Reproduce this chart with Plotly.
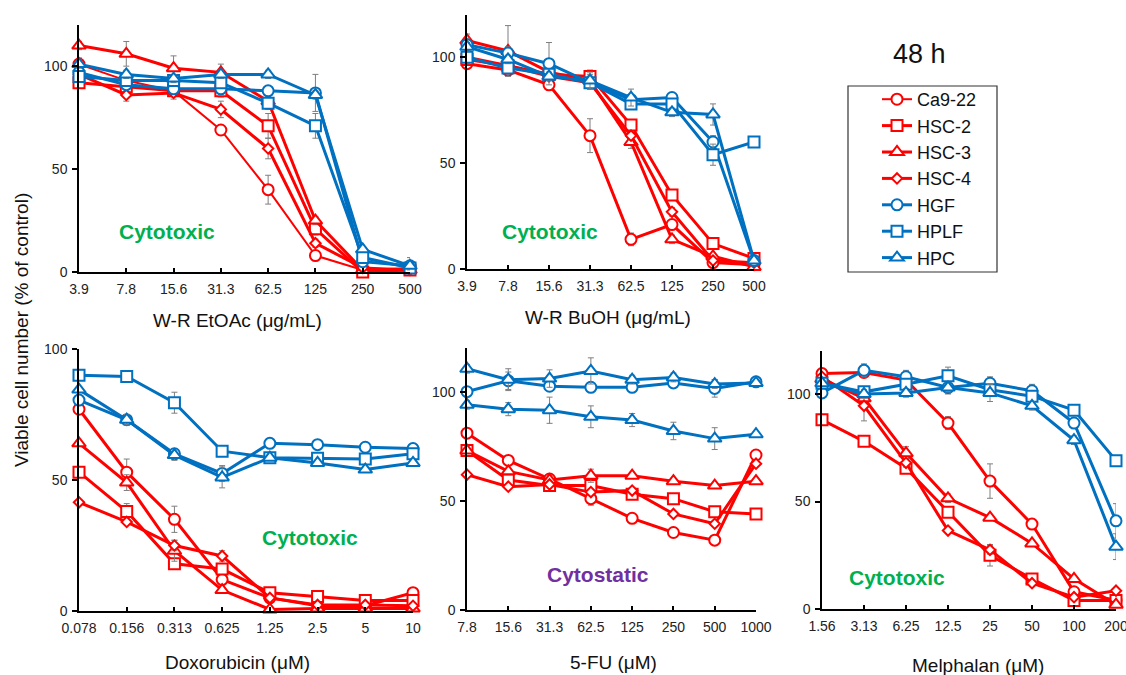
import plotly.graph_objects as go

W, H = 1126, 675
RED = "#FF0000"
BLUE = "#0070C0"
GREEN = "#00B050"
PURPLE = "#7030A0"
FONT = "Liberation Sans, Arial, sans-serif"

cell_lines = ["Ca9-22", "HSC-2", "HSC-3", "HSC-4", "HGF", "HPLF", "HPC"]
line_colors = [RED, RED, RED, RED, BLUE, BLUE, BLUE]
symbols = ["circle", "square", "triangle-up", "diamond", "circle", "square", "triangle-up"]

# ---------------- W-R EtOAc (ug/mL) ----------------
etoac_doses = ["3.9", "7.8", "15.6", "31.3", "62.5", "125", "250", "500"]
etoac_ca922 = [101, 93, 88, 69, 40, 8, 1, 2]
etoac_hsc2 = [92, 90, 88, 88, 71, 21, 0, 1]
etoac_hsc3 = [110, 106, 99, 97, 83, 25, 1, 1]
etoac_hsc4 = [96, 86, 87, 79, 60, 14, 2, 1]
etoac_hgf = [97, 91, 89, 89, 88, 87, 5, 3]
etoac_hplf = [95, 93, 93, 92, 82, 71, 7, 2]
etoac_hpc = [101, 96, 94, 96, 96, 86, 11, 3]
etoac_ca922_err = [3, 2, 2, 2, 7, 2, 1, 1]
etoac_hsc2_err = [2, 2, 2, 3, 6, 3, 1, 1]
etoac_hsc3_err = [2, 6, 6, 4, 4, 2, 1, 1]
etoac_hsc4_err = [2, 3, 3, 4, 5, 2, 1, 1]
etoac_hgf_err = [2, 2, 2, 2, 2, 9, 1, 4]
etoac_hplf_err = [2, 2, 2, 2, 2, 6, 1, 1]
etoac_hpc_err = [2, 2, 2, 2, 2, 2, 1, 2]

# ---------------- W-R BuOH (ug/mL) ----------------
buoh_doses = ["3.9", "7.8", "15.6", "31.3", "62.5", "125", "250", "500"]
buoh_ca922 = [97, 94, 87, 63, 14, 21, 3, 2]
buoh_hsc2 = [99, 96, 92, 91, 68, 35, 12, 5]
buoh_hsc3 = [108, 103, 93, 89, 60, 14, 6, 1]
buoh_hsc4 = [100, 96, 91, 88, 63, 27, 4, 3]
buoh_hgf = [106, 102, 97, 88, 80, 81, 60, 4]
buoh_hplf = [100, 95, 92, 88, 78, 78, 54, 60]
buoh_hpc = [105, 99, 91, 89, 81, 74, 73, 4]
buoh_ca922_err = [2, 2, 2, 8, 3, 2, 1, 1]
buoh_hsc2_err = [2, 2, 2, 3, 2, 2, 1, 1]
buoh_hsc3_err = [3, 12, 3, 3, 3, 2, 1, 1]
buoh_hsc4_err = [2, 2, 2, 3, 2, 2, 1, 1]
buoh_hgf_err = [3, 3, 10, 3, 2, 2, 3, 1]
buoh_hplf_err = [3, 2, 2, 3, 2, 2, 5, 1]
buoh_hpc_err = [2, 2, 2, 4, 4, 2, 5, 1]

# ---------------- Doxorubicin (uM) ----------------
dox_doses = ["0.078", "0.156", "0.313", "0.625", "1.25", "2.5", "5", "10"]
dox_ca922 = [77, 53, 35, 12, 5, 2, 2, 7]
dox_hsc2 = [53, 38, 18, 16, 7, 5.5, 4, 4]
dox_hsc3 = [64, 49, 23, 8, 0.6, 1, 1, 1]
dox_hsc4 = [41.5, 34, 25, 21, 5, 2.3, 2.3, 2]
dox_hgf = [80.5, 73, 60, 52.5, 64, 63.5, 62.5, 62]
dox_hplf = [90, 89.5, 79.5, 61, 58.5, 58.3, 58, 60]
dox_hpc = [84.5, 73, 59.5, 51, 58.5, 56.5, 54, 56.5]
dox_ca922_err = [1, 5, 5, 2, 1, 1, 1, 1]
dox_hsc2_err = [1, 3, 2, 2, 1, 1, 1, 1]
dox_hsc3_err = [1, 3, 4, 1, 1, 1, 1, 1]
dox_hsc4_err = [1, 1, 2, 2, 1, 1, 1, 1]
dox_hgf_err = [1, 2, 2, 3, 1, 1, 1, 1]
dox_hplf_err = [1, 2, 4, 2, 1, 1, 1, 1]
dox_hpc_err = [1, 2, 2, 4, 1, 1, 1, 1]

# ---------------- 5-FU (uM) ----------------
fu_doses = ["7.8", "15.6", "31.3", "62.5", "125", "250", "500", "1000"]
fu_ca922 = [81, 68.5, 60, 51, 42, 35.5, 32, 71]
fu_hsc2 = [73, 59.5, 57, 57, 53, 51, 45, 44]
fu_hsc3 = [73, 63.5, 59.5, 61.5, 61.5, 59, 57, 59]
fu_hsc4 = [62, 56.5, 57.5, 54, 54.7, 44, 39.5, 67]
fu_hgf = [100, 105, 102.5, 102, 102, 104, 101.5, 104.5]
fu_hplf = [94, 92, 91.5, 88.5, 87, 82, 78.5, 80.5]
fu_hpc = [110.5, 105.5, 106, 109.5, 105.5, 106.5, 103.5, 104]
fu_ca922_err = [1, 1, 2, 3, 1, 1, 1, 1]
fu_hsc2_err = [1, 1, 1, 2, 1, 1, 1, 1]
fu_hsc3_err = [1, 1, 2, 3, 1, 1, 1, 1]
fu_hsc4_err = [1, 1, 1, 1, 1, 1, 1, 1]
fu_hgf_err = [2, 4, 2, 2, 2, 2, 4, 1]
fu_hplf_err = [2, 3, 6, 5, 3, 4, 5, 1]
fu_hpc_err = [2, 5, 4, 6, 2, 2, 2, 1]

# ---------------- Melphalan (uM) ----------------
mel_doses = ["1.56", "3.13", "6.25", "12.5", "25", "50", "100", "200"]
mel_ca922 = [109.5, 110, 106.5, 86.5, 59.5, 39.5, 8, 4]
mel_hsc2 = [88, 78, 65.5, 45, 25, 14, 4, 4]
mel_hsc3 = [107, 98, 72.5, 51.5, 42.5, 30.5, 14, 2]
mel_hsc4 = [108, 94.5, 68, 36.5, 27.5, 12, 5.5, 8.5]
mel_hgf = [100.5, 111, 108, 103, 105, 101.5, 86.5, 41]
mel_hplf = [105, 101, 104.5, 108.5, 102, 99, 92.5, 69]
mel_hpc = [105, 100, 100.5, 103, 100.5, 94.5, 78.5, 29]
mel_ca922_err = [1, 2, 2, 3, 8, 1, 1, 1]
mel_hsc2_err = [1, 1, 1, 2, 5, 1, 1, 1]
mel_hsc3_err = [1, 2, 3, 2, 1, 1, 1, 1]
mel_hsc4_err = [1, 7, 2, 1, 2, 1, 1, 1]
mel_hgf_err = [1, 3, 3, 3, 3, 3, 2, 8]
mel_hplf_err = [1, 2, 2, 4, 2, 2, 1, 1]
mel_hpc_err = [1, 2, 2, 2, 4, 2, 2, 6]

panels = [
    dict(doses=etoac_doses,
         vals=[etoac_ca922, etoac_hsc2, etoac_hsc3, etoac_hsc4, etoac_hgf, etoac_hplf, etoac_hpc],
         errs=[etoac_ca922_err, etoac_hsc2_err, etoac_hsc3_err, etoac_hsc4_err, etoac_hgf_err, etoac_hplf_err, etoac_hpc_err],
         ax="", xpx=(79, 410), ypx=(272, 25), yr=120, thin_first=True, sym_override={}),
    dict(doses=buoh_doses,
         vals=[buoh_ca922, buoh_hsc2, buoh_hsc3, buoh_hsc4, buoh_hgf, buoh_hplf, buoh_hpc],
         errs=[buoh_ca922_err, buoh_hsc2_err, buoh_hsc3_err, buoh_hsc4_err, buoh_hgf_err, buoh_hplf_err, buoh_hpc_err],
         ax="2", xpx=(467, 754), ypx=(269, 15), yr=120, thin_first=False, sym_override={}),
    dict(doses=dox_doses,
         vals=[dox_ca922, dox_hsc2, dox_hsc3, dox_hsc4, dox_hgf, dox_hplf, dox_hpc],
         errs=[dox_ca922_err, dox_hsc2_err, dox_hsc3_err, dox_hsc4_err, dox_hgf_err, dox_hplf_err, dox_hpc_err],
         ax="3", xpx=(79, 413), ypx=(611, 349), yr=100, thin_first=False, sym_override={}),
    dict(doses=fu_doses,
         vals=[fu_ca922, fu_hsc2, fu_hsc3, fu_hsc4, fu_hgf, fu_hplf, fu_hpc],
         errs=[fu_ca922_err, fu_hsc2_err, fu_hsc3_err, fu_hsc4_err, fu_hgf_err, fu_hplf_err, fu_hpc_err],
         ax="4", xpx=(467, 756), ypx=(610, 348), yr=120, thin_first=False, sym_override={5: "triangle-up"}),
    dict(doses=mel_doses,
         vals=[mel_ca922, mel_hsc2, mel_hsc3, mel_hsc4, mel_hgf, mel_hplf, mel_hpc],
         errs=[mel_ca922_err, mel_hsc2_err, mel_hsc3_err, mel_hsc4_err, mel_hgf_err, mel_hplf_err, mel_hpc_err],
         ax="5", xpx=(822, 1116), ypx=(609, 351), yr=120, thin_first=False, sym_override={}),
]

fig = go.Figure()
layout = {}

for pi, p in enumerate(panels):
    for si, name in enumerate(cell_lines):
        sym = p["sym_override"].get(si, symbols[si])
        size = 8 if sym == "diamond" else (12 if sym.startswith("triangle") else 11)
        lw = 2 if (p["thin_first"] and si == 0) else 3
        fig.add_trace(go.Scatter(
            x=p["doses"], y=p["vals"][si],
            mode="lines+markers",
            name=name,
            legendgroup=name,
            showlegend=(pi == 0),
            line=dict(color=line_colors[si], width=lw),
            marker=dict(symbol=sym, size=size, color="white",
                        line=dict(color=line_colors[si], width=2)),
            error_y=dict(type="data", array=p["errs"][si], visible=True,
                         color="#7F7F7F", thickness=1, width=3),
            cliponaxis=False,
            xaxis="x" + p["ax"], yaxis="y" + p["ax"],
        ))
    x0, x1 = p["xpx"]
    yb, yt = p["ypx"]
    layout["xaxis" + p["ax"]] = dict(
        domain=[x0 / W, x1 / W], anchor="y" + p["ax"], type="category",
        range=[0, 7], showline=True, linecolor="black", linewidth=1.5,
        ticks="inside", ticklen=4, tickwidth=1.5, tickcolor="black",
        showgrid=False, zeroline=False, fixedrange=True, automargin=False,
        ticklabelstandoff=3,
        tickfont=dict(family=FONT, size=14, color="#222222"),
    )
    layout["yaxis" + p["ax"]] = dict(
        domain=[1 - yb / H, 1 - yt / H], anchor="x" + p["ax"],
        range=[0, p["yr"]], tickvals=[0, 50, 100],
        showline=True, linecolor="black", linewidth=1.5,
        ticks="outside", ticklen=5, tickwidth=1.5, tickcolor="black",
        showgrid=False, zeroline=False, fixedrange=True, automargin=False,
        ticklabelstandoff=2,
        tickfont=dict(family=FONT, size=14, color="#222222"),
    )

annotations = []

def ann(text, xc, yc, size, color="#111111", bold=False, angle=0):
    annotations.append(dict(
        text=("<b>%s</b>" % text) if bold else text,
        x=xc / W, y=1 - yc / H, xref="paper", yref="paper",
        xanchor="center", yanchor="middle", showarrow=False, textangle=angle,
        font=dict(family=FONT, size=size, color=color),
    ))

ann("W-R EtOAc (μg/mL)", 237, 320, 19)
ann("W-R BuOH (μg/mL)", 608, 317, 19)
ann("Doxorubicin (μM)", 237, 662, 19)
ann("5-FU (μM)", 613, 662, 19)
ann("Melphalan (μM)", 978, 665, 19)
ann("Viable cell number (% of control)", 21, 330, 19, angle=-90)
ann("Cytotoxic", 167, 232, 21, GREEN, True)
ann("Cytotoxic", 550, 232, 21, GREEN, True)
ann("Cytotoxic", 310, 537, 21, GREEN, True)
ann("Cytostatic", 598, 574, 21, PURPLE, True)
ann("Cytotoxic", 897, 577, 21, GREEN, True)
ann("48 h", 919, 54, 27)

fig.update_layout(
    width=W, height=H,
    margin=dict(l=0, r=0, t=0, b=0, autoexpand=False),
    paper_bgcolor="white", plot_bgcolor="white",
    font=dict(family=FONT, color="#111111"),
    annotations=annotations,
    shapes=[dict(type="rect", xref="paper", yref="paper",
                 x0=848 / W, x1=997 / W, y0=1 - 272 / H, y1=1 - 86 / H,
                 line=dict(color="#333333", width=1.2), fillcolor="rgba(0,0,0,0)")],
    legend=dict(x=877 / W, y=1 - 81 / H, xanchor="left", yanchor="top",
                font=dict(family=FONT, size=18, color="#111111"),
                bgcolor="rgba(0,0,0,0)", borderwidth=0, tracegroupgap=0,
                itemclick=False, itemdoubleclick=False),
    showlegend=True,
    **layout,
)

fig.write_html("out.html", config={"displayModeBar": False})
